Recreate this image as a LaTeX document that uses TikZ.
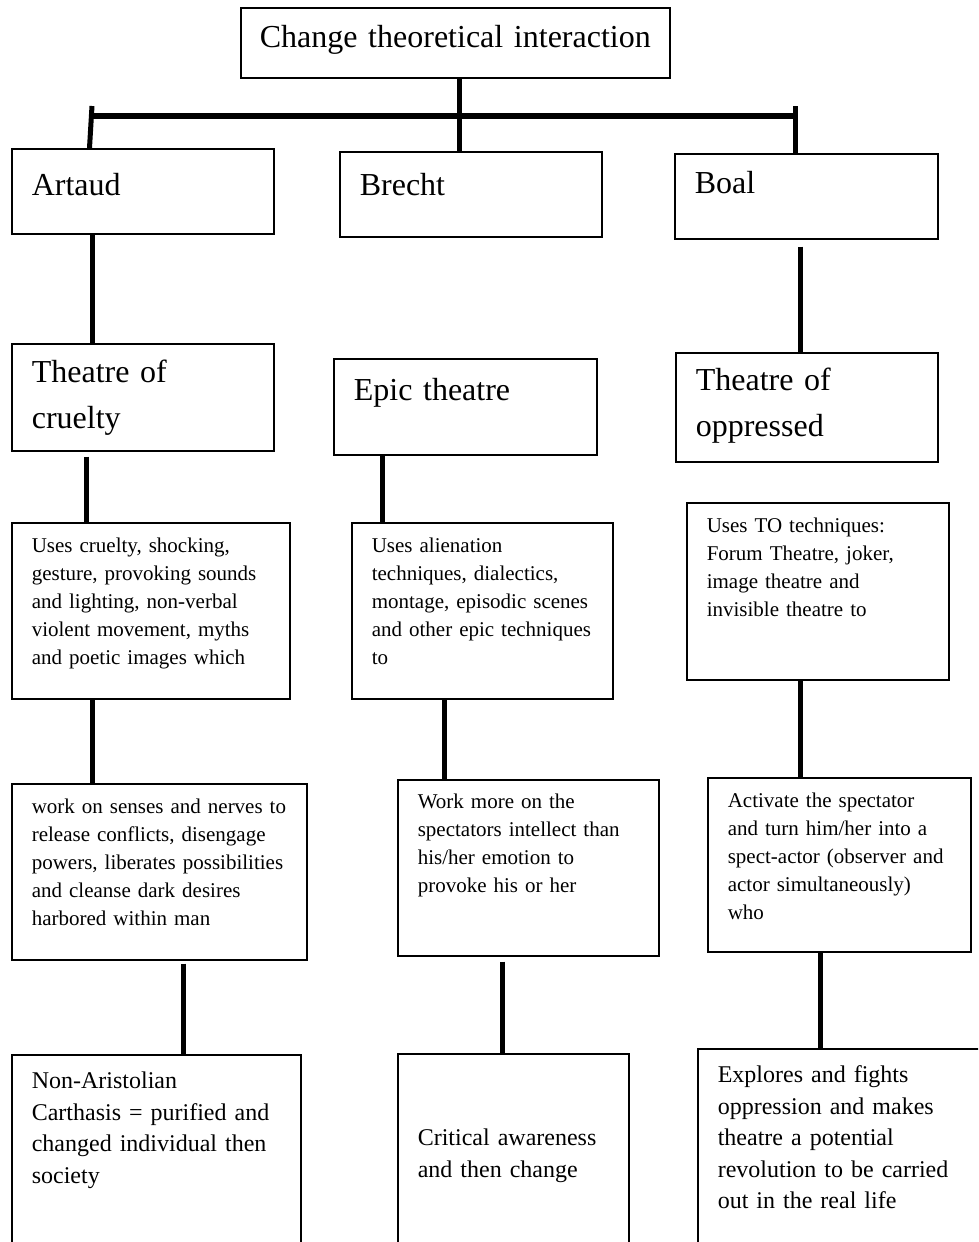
\documentclass[tikz,border=0pt]{standalone}
\usepackage{fontspec}
\setmainfont{Liberation Serif}
\usetikzlibrary{positioning}

\tikzset{
  box/.style={draw, line width=1.6pt, anchor=north west, align=left,
    inner xsep=20pt, inner ysep=0pt},
  bigtxt/.style={font=\fontsize{32}{46}\selectfont},
  smalltxt/.style={font=\fontsize{21}{28}\selectfont},
  endtxt/.style={font=\fontsize{24}{31.5}\selectfont},
  link/.style={line width=5pt},
  bar/.style={line width=6pt}
}

\begin{document}
\begin{tikzpicture}[x=1pt,y=1pt]
\useasboundingbox (0,0) rectangle (978,-1242);
\clip (0,0) rectangle (978,-1242);
\fill[white] (0,0) rectangle (978,-1242);

% top and the three authors
\node[box, bigtxt, align=center, inner xsep=0pt, text width=429pt,
  text height=40pt, text depth=30pt] (top) at (240,-7) {Change theoretical interaction};
\node[box, bigtxt, text width=222pt, text height=47pt, text depth=38pt] (artaud) at (11,-148) {Artaud};
\node[box, bigtxt, text width=222pt, text height=44pt, text depth=41pt] (brecht) at (339,-151) {Brecht};
\node[box, bigtxt, text width=223pt, text height=40pt, text depth=45pt] (boal) at (674,-153) {Boal};

% kinds of theatre
\node[box, bigtxt, text width=222pt, text height=39pt, text depth=68pt] (cruelty) at (11,-343) {Theatre of\\cruelty};
\node[box, bigtxt, text width=223pt, text height=42pt, text depth=54pt] (epic) at (333,-358) {Epic theatre};
\node[box, bigtxt, text width=222pt, text height=38pt, text depth=71pt] (oppr) at (675,-352) {Theatre of\\oppressed};

% techniques
\node[box, smalltxt, text width=238pt, text height=30pt, text depth=146pt] (usescr) at (11,-522)
  {Uses cruelty, shocking,\\gesture, provoking sounds\\and lighting, non-verbal\\violent movement, myths\\and poetic images which};
\node[box, smalltxt, text width=221pt, text height=30pt, text depth=146pt] (usesal) at (351,-522)
  {Uses alienation\\techniques, dialectics,\\montage, episodic scenes\\and other epic techniques\\to};
\node[box, smalltxt, text width=222pt, text height=30pt, text depth=147pt] (usesto) at (686,-502)
  {Uses TO techniques:\\Forum Theatre, joker,\\image theatre and\\invisible theatre to};

% effect on the spectator
\node[box, smalltxt, text width=255pt, text height=30pt, text depth=146pt] (senses) at (11,-783)
  {work on senses and nerves to\\release conflicts, disengage\\powers, liberates possibilities\\and cleanse dark desires\\harbored within man};
\node[box, smalltxt, text width=221pt, text height=29pt, text depth=147pt] (intellect) at (397,-779)
  {Work more on the\\spectators intellect than\\his/her emotion to\\provoke his or her};
\node[box, smalltxt, text width=223pt, text height=30pt, text depth=144pt] (activate) at (707,-777)
  {Activate the spectator\\and turn him/her into a\\spect-actor (observer and\\actor simultaneously)\\who};

% outcomes
\node[box, endtxt, text width=249pt, text height=34pt, text depth=172pt] (catharsis) at (11,-1054)
  {Non-Aristolian\\Carthasis = purified and\\changed individual then\\society};
\node[box, endtxt, text width=191pt, text height=92pt, text depth=115pt] (critical) at (397,-1053)
  {Critical awareness\\and then change};
\node[box, endtxt, text width=258pt, text height=34pt, text depth=178pt] (explores) at (697,-1048)
  {Explores and fights\\oppression and makes\\theatre a potential\\revolution to be carried\\out in the real life};

% connectors
\coordinate (barl) at (91,-116);
\coordinate (barr) at (795,-116);
\draw[bar] (barl) -- (barr);
\draw[link] ([xshift=4pt]top.south) -- ([xshift=4pt]top.south |- brecht.north);
\draw[link] ([xshift=1pt,yshift=10pt]barl) -- ([xshift=-1.5pt]barl |- artaud.north);
\draw[link] ([yshift=10pt]barr) -- (barr |- boal.north);
\draw[link] ([xshift=81pt]artaud.south west) -- ([xshift=81pt]cruelty.north west);
\draw[link, shorten <=7pt] ([xshift=126pt]boal.south west) -- ([xshift=125pt]oppr.north west);
\draw[link, shorten <=5pt] ([xshift=75pt]cruelty.south west) -- ([xshift=75pt]usescr.north west);
\draw[link] ([xshift=49pt]epic.south west) -- ([xshift=31pt]usesal.north west);
\draw[link] ([xshift=81pt]usescr.south west) -- ([xshift=81pt]senses.north west);
\draw[link] ([xshift=93pt]usesal.south west) -- ([xshift=47pt]intellect.north west);
\draw[link] ([xshift=114pt]usesto.south west) -- ([xshift=93pt]activate.north west);
\draw[link, shorten <=3pt] ([xshift=172pt]senses.south west) -- ([xshift=172pt]catharsis.north west);
\draw[link, shorten <=5pt] ([xshift=105pt]intellect.south west) -- ([xshift=105pt]critical.north west);
\draw[link] ([xshift=113pt]activate.south west) -- ([xshift=123pt]explores.north west);
\end{tikzpicture}
\end{document}
